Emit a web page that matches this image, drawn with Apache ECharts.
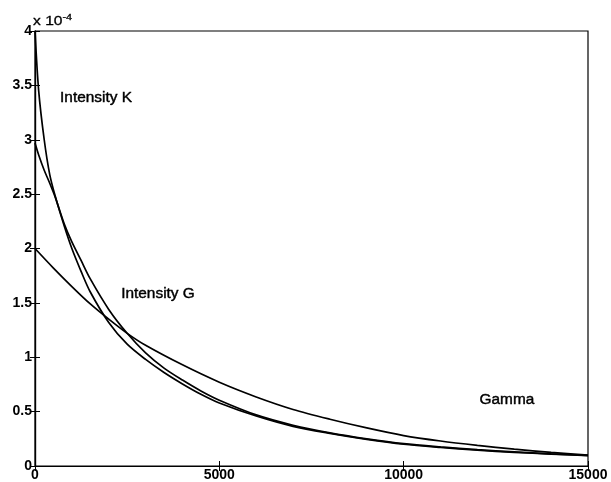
<!DOCTYPE html>
<html>
<head>
<meta charset="utf-8">
<script src="https://cdn.jsdelivr.net/npm/echarts@6/dist/echarts.min.js"></script>
<style>
html,body{margin:0;padding:0;background:#fff;}
#c{width:611px;height:482px;}
</style>
</head>
<body>
<div id="c"></div>
<script>
// values in units of 1e-4
const xA = [0, 100, 250, 400, 550, 800, 1000, 1250, 1500, 2000, 2500, 3000, 3500, 4000, 4500, 5000, 6000, 7000, 8000, 9000, 10000, 11000, 12000, 13000, 14000, 15000];
const yA = [4.0, 3.45, 3.0, 2.68, 2.48, 2.2, 2.0, 1.79, 1.6, 1.32, 1.12, 0.98, 0.86, 0.755, 0.66, 0.58, 0.46, 0.365, 0.30, 0.245, 0.20, 0.17, 0.145, 0.125, 0.11, 0.095];
const xB = [0, 100, 250, 400, 550, 800, 1000, 1250, 1500, 2000, 2500, 3000, 3500, 4000, 4500, 5000, 6000, 7000, 8000, 9000, 10000, 11000, 12000, 13000, 14000, 15000];
const yB = [2.97, 2.86, 2.72, 2.6, 2.47, 2.22, 2.06, 1.89, 1.72, 1.44, 1.22, 1.04, 0.90, 0.79, 0.69, 0.605, 0.47, 0.375, 0.305, 0.25, 0.205, 0.175, 0.15, 0.13, 0.112, 0.097];
const xC = [0, 500, 1000, 1500, 2000, 2500, 3000, 4000, 5000, 6000, 7000, 8000, 9000, 10000, 11000, 12000, 13000, 14000, 15000];
const yC = [2.0, 1.82, 1.65, 1.49, 1.35, 1.22, 1.11, 0.93, 0.77, 0.635, 0.52, 0.43, 0.35, 0.28, 0.23, 0.19, 0.155, 0.125, 0.10];
const xTicks = [0, 5000, 10000, 15000];
const yTicks = [0, 0.5, 1, 1.5, 2, 2.5, 3, 3.5, 4];
const labelTexts = ["Intensity K", "Intensity G", "Gamma"];
const labelX = [1655, 3336, 12800];
const labelY = [3.38, 1.58, 0.607];

const pairs = (xs, ys) => xs.map((x, i) => [x, ys[i]]);
const font = 'Liberation Sans, Arial, sans-serif';
const chart = echarts.init(document.getElementById('c'));
const lineSeries = (name, xs, ys) => ({
  name, type: 'line', data: pairs(xs, ys), smooth: 0.3,
  symbol: 'none', lineStyle: {color: '#000', width: 1.7}, xAxisIndex: 0, yAxisIndex: 0
});
const tickCommon = {show: true, inside: true, length: 5, lineStyle: {color: '#000', width: 1}};
chart.setOption({
  animation: false,
  backgroundColor: '#fff',
  grid: {left: 35, right: 23, top: 31, bottom: 16, show: true, borderColor: '#000', borderWidth: 1.2},
  xAxis: [
    {type: 'value', min: 0, max: 15000, interval: 5000, position: 'bottom',
     axisLine: {show: true, lineStyle: {color: '#000', width: 1.2}},
     axisTick: tickCommon, splitLine: {show: false},
     axisLabel: {color: '#000', fontFamily: font, fontSize: 14, fontWeight: 'bold', margin: 2,
       formatter: v => xTicks.includes(v) ? String(v) : ''}},
    {type: 'value', min: 0, max: 15000, interval: 5000, position: 'top',
     axisLine: {show: true, lineStyle: {color: '#000', width: 1.2}},
     axisTick: tickCommon, splitLine: {show: false}, axisLabel: {show: false}}
  ],
  yAxis: [
    {type: 'value', min: 0, max: 4, interval: 0.5, position: 'left',
     axisLine: {show: true, lineStyle: {color: '#000', width: 1.2}},
     axisTick: tickCommon, splitLine: {show: false},
     axisLabel: {color: '#000', fontFamily: font, fontSize: 14, fontWeight: 'bold', margin: 3,
       formatter: v => yTicks.includes(v) ? String(v) : ''}},
    {type: 'value', min: 0, max: 4, interval: 0.5, position: 'right',
     axisLine: {show: true, lineStyle: {color: '#000', width: 1.2}},
     axisTick: tickCommon, splitLine: {show: false}, axisLabel: {show: false}}
  ],
  series: [
    lineSeries('A', xA, yA),
    lineSeries('B', xB, yB),
    lineSeries('C', xC, yC)
  ]
});

const graphics = labelTexts.map((t, i) => {
  const p = chart.convertToPixel({xAxisIndex: 0, yAxisIndex: 0}, [labelX[i], labelY[i]]);
  return {type: 'text', x: p[0], y: p[1], scaleX: 1.1, style: {text: t, fill: '#000',
    font: '14px ' + font, textAlign: 'center', textVerticalAlign: 'middle',
    stroke: '#000', lineWidth: 0.4}};
});
graphics.push({type: 'text', x: 33, y: 13, scaleX: 1.2, style: {
  text: 'x 10{s|-4}', fill: '#000', font: '13px ' + font, stroke: '#000', lineWidth: 0.3,
  rich: {s: {fontSize: 9, fontFamily: font, verticalAlign: 'top', padding: [0, 0, 8, 0]}}}});
chart.setOption({graphic: graphics});
</script>
</body>
</html>
